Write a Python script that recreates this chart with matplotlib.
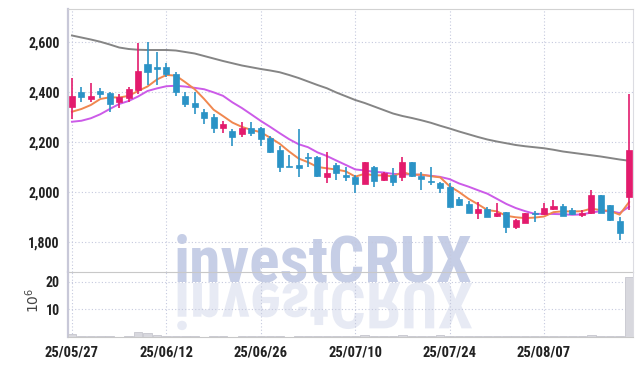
import numpy as np
import pandas as pd
import matplotlib
matplotlib.use('Agg')
import matplotlib.pyplot as plt
from matplotlib import font_manager
from matplotlib.ticker import FuncFormatter
from matplotlib.textpath import TextPath
from matplotlib.patches import PathPatch
from matplotlib.font_manager import FontProperties
from matplotlib.transforms import Affine2D

# trading days (KRX), 2025-05-27 .. 2025-08-21
dates = ["2025-05-27", "2025-05-28", "2025-05-29", "2025-05-30",
         "2025-06-02", "2025-06-04", "2025-06-05", "2025-06-09", "2025-06-10",
         "2025-06-11", "2025-06-12", "2025-06-13", "2025-06-16", "2025-06-17",
         "2025-06-18", "2025-06-19", "2025-06-20", "2025-06-23", "2025-06-24",
         "2025-06-25", "2025-06-26", "2025-06-27", "2025-06-30",
         "2025-07-01", "2025-07-02", "2025-07-03", "2025-07-04", "2025-07-07",
         "2025-07-08", "2025-07-09", "2025-07-10", "2025-07-11", "2025-07-14",
         "2025-07-15", "2025-07-16", "2025-07-17", "2025-07-18", "2025-07-21",
         "2025-07-22", "2025-07-23", "2025-07-24", "2025-07-25", "2025-07-28",
         "2025-07-29", "2025-07-30", "2025-07-31", "2025-08-01", "2025-08-04",
         "2025-08-05", "2025-08-06", "2025-08-07", "2025-08-08", "2025-08-11",
         "2025-08-12", "2025-08-13", "2025-08-14", "2025-08-18", "2025-08-19",
         "2025-08-20", "2025-08-21"]

opens = [2342, 2400, 2373, 2405, 2397, 2362, 2376, 2409, 2513, 2502,
         2501, 2473, 2385, 2357, 2321, 2302, 2258, 2245, 2232, 2256,
         2256, 2216, 2169, 2105, 2109, 2142, 2140, 2062, 2109, 2069,
         2060, 2034, 2100, 2048, 2068, 2060, 2121, 2065, 2046, 2037,
         2022, 1973, 1953, 1918, 1933, 1905, 1920, 1860, 1878, 1918,
         1913, 1933, 1945, 1929, 1909, 1916, 1989, 1949, 1885, 1982]
highs = [2456, 2421, 2436, 2418, 2402, 2394, 2420, 2596, 2601, 2560,
         2516, 2482, 2400, 2400, 2333, 2313, 2286, 2253, 2282, 2280,
         2260, 2225, 2185, 2148, 2252, 2156, 2145, 2160, 2116, 2102,
         2069, 2123, 2107, 2081, 2098, 2140, 2123, 2080, 2102, 2042,
         2038, 1980, 1965, 1960, 1942, 1956, 1922, 1893, 1918, 1925,
         1958, 1969, 1953, 1938, 1929, 2009, 1991, 1951, 1902, 2393]
lows = [2293, 2362, 2362, 2376, 2320, 2338, 2362, 2392, 2429, 2429,
        2462, 2385, 2342, 2312, 2272, 2236, 2238, 2185, 2222, 2225,
        2185, 2156, 2080, 2100, 2060, 2102, 2060, 2036, 2049, 2045,
        1999, 2032, 2021, 2046, 2026, 2044, 2060, 2009, 2029, 1996,
        1940, 1947, 1916, 1892, 1900, 1900, 1838, 1853, 1876, 1882,
        1909, 1929, 1904, 1910, 1900, 1914, 1916, 1886, 1809, 1929]
closes = [2385, 2381, 2386, 2393, 2354, 2381, 2413, 2485, 2482, 2494,
          2472, 2400, 2353, 2342, 2298, 2258, 2273, 2222, 2256, 2238,
          2212, 2162, 2102, 2101, 2098, 2138, 2066, 2076, 2076, 2062,
          2033, 2121, 2046, 2076, 2041, 2120, 2065, 2053, 2042, 2018,
          1942, 1949, 1918, 1933, 1902, 1916, 1860, 1889, 1916, 1912,
          1938, 1947, 1906, 1912, 1918, 1989, 1918, 1889, 1838, 2169]
volumes = [1.0, 0.3, 0.3, 0.3, 0.3, 0.1, 0.4, 1.8, 1.3, 0.8,
           0.3, 0.3, 0.3, 0.3, 0.1, 0.3, 0.3, 0.1, 0.3, 0.3,
           0.3, 0.3, 0.3, 0.1, 0.3, 0.3, 0.3, 0.3, 0.3, 0.2,
           0.2, 0.9, 0.5, 0.2, 0.2, 0.6, 0.2, 0.2, 0.2, 0.6,
           0.3, 0.2, 0.2, 0.2, 0.2, 0.2, 0.2, 0.2, 0.2, 0.2,
           0.2, 0.2, 0.2, 0.2, 0.2, 0.6, 0.3, 0.2, 0.3, 21.7]

# moving-average values before enough closes are in the window
ma5_head = [2322, 2333, 2349, 2373]
ma10_head = [2282, 2286, 2296, 2312, 2333, 2353, 2365, 2383, 2405]
ma60 = [2627, 2619, 2611, 2602, 2591, 2579, 2573, 2570, 2569, 2569,
        2569, 2567, 2561, 2555, 2545, 2535, 2525, 2516, 2507, 2500,
        2493, 2487, 2480, 2469, 2457, 2443, 2429, 2416, 2399, 2384,
        2369, 2357, 2343, 2329, 2315, 2305, 2297, 2288, 2278, 2266,
        2255, 2243, 2232, 2221, 2211, 2203, 2196, 2189, 2184, 2180,
        2176, 2170, 2163, 2158, 2153, 2148, 2143, 2137, 2131, 2126]

tick_idx = [0, 10, 20, 30, 40, 50]
y_ticks = [1800, 2000, 2200, 2400, 2600]
vol_ticks = [10, 20]

UP = '#e31b6d'
DOWN = '#2b93c6'

# pick a narrow font if one is installed
fonts = font_manager.fontManager.ttflist
names = {f.name for f in fonts}
stretch = 'normal'
narrow = None
for cand in ['Liberation Sans Narrow', 'Roboto Condensed', 'Open Sans Condensed',
             'Noto Sans Condensed', 'DejaVu Sans Condensed']:
    if cand in names:
        narrow = cand
        break
if narrow is None:
    cond = [f for f in fonts if 'ondensed' in str(f.stretch) or 'ondensed' in f.fname]
    if cond:
        narrow = cond[0].name
        stretch = 'condensed'
    else:
        narrow = 'Roboto' if 'Roboto' in names else 'DejaVu Sans'

cs = pd.Series(closes, dtype=float)
ma5 = cs.rolling(5).mean().to_numpy()
ma5[:len(ma5_head)] = ma5_head
ma10 = cs.rolling(10).mean().to_numpy()
ma10[:len(ma10_head)] = ma10_head

x = np.arange(len(dates))
o = np.array(opens); c = np.array(closes)
cols = [UP if cc >= oo else DOWN for oo, cc in zip(o, c)]
bottoms = np.minimum(o, c)
heights = np.maximum(np.abs(c - o), 3)

fig = plt.figure(figsize=(6.42, 3.66), dpi=100)
ax = fig.add_axes([68/642, 1-272/366, (633-68)/642, (272-9)/366])
axv = fig.add_axes([68/642, 1-337/366, (633-68)/642, (337-272)/366], sharex=ax)
for a in (ax, axv):
    a.set_facecolor('none')
    a.set_zorder(2)
    a.grid(True, color='#c5c9de', linestyle=(0, (1, 2)), lw=0.8)
    a.set_axisbelow(True)
    a.tick_params(length=0, pad=6, labelsize=10, labelcolor='#222222')
    a.spines['left'].set_color('#c8c8d8')
    a.spines['left'].set_linewidth(1.6)
    a.spines['right'].set_color('#dcdce2')
    a.spines['top'].set_color('#d2d2d2')
    a.spines['bottom'].set_color('#c8c8c8')
axv.spines['top'].set_visible(False)

ax.plot(x, ma60, color='#858585', lw=1.4, zorder=3)
ax.plot(x, ma10, color='#cc5be8', lw=1.4, zorder=3)
ax.plot(x, ma5, color='#f0874f', lw=1.4, zorder=3)
ax.vlines(x, lows, highs, colors=cols, lw=1.2, zorder=4)
ax.bar(x, heights, bottom=bottoms, width=0.64, color=cols, edgecolor=cols,
       lw=0.5, zorder=5)

ax.set_xlim(-0.42, len(dates) - 1 + 0.42)
ax.set_ylim(1681, 2733)
ax.set_yticks(y_ticks)
ax.yaxis.set_major_formatter(FuncFormatter(lambda v, p: f'{v:,.0f}'))
ax.set_xticks(tick_idx)
ax.tick_params(labelbottom=False)

axv.bar(x, volumes, width=0.9, color='#d8d8de', edgecolor='#c6c6ce', lw=0.6,
        zorder=3)
axv.set_ylim(0, 23.5)
axv.set_yticks(vol_ticks)
axv.set_xticks(tick_idx)
axv.set_xticklabels([pd.Timestamp(dates[i]).strftime('%y/%m/%d') for i in tick_idx])

for a in (ax, axv):
    for lab in a.get_xticklabels() + a.get_yticklabels():
        lab.set_family(narrow)
        lab.set_stretch(stretch)
        lab.set_fontweight('bold')
for lab in axv.get_xticklabels():
    lab.set_fontsize(10.5)

fig.text(33/642, 1-300/366, r'$10^6$', rotation=90, ha='center', va='center',
         fontsize=10, color='#444444')

# watermark and its reflection, sized to span about 295 px
fp = FontProperties(family=narrow, weight='bold', stretch=stretch)
unit = TextPath((0, 0), 'investCRUX', size=1, prop=fp).get_extents()
wm_size = 295 * 72 / (100 * unit.width)
fig.text(174/642, 1-281/366, 'investCRUX', fontproperties=fp, fontsize=wm_size,
         color='#c6cee6', ha='left', va='baseline', zorder=0.5)
tp = TextPath((0, 0), 'investCRUX', size=wm_size, prop=fp)
tr = Affine2D().scale(1/72, -1/72).translate(1.74, (366-283)/100) + fig.dpi_scale_trans
refl = PathPatch(tp, facecolor='#c6cee6', edgecolor='none', alpha=0.42,
                 transform=tr, zorder=0.5)
fig.add_artist(refl)

fig.savefig('out.png', dpi=100)
